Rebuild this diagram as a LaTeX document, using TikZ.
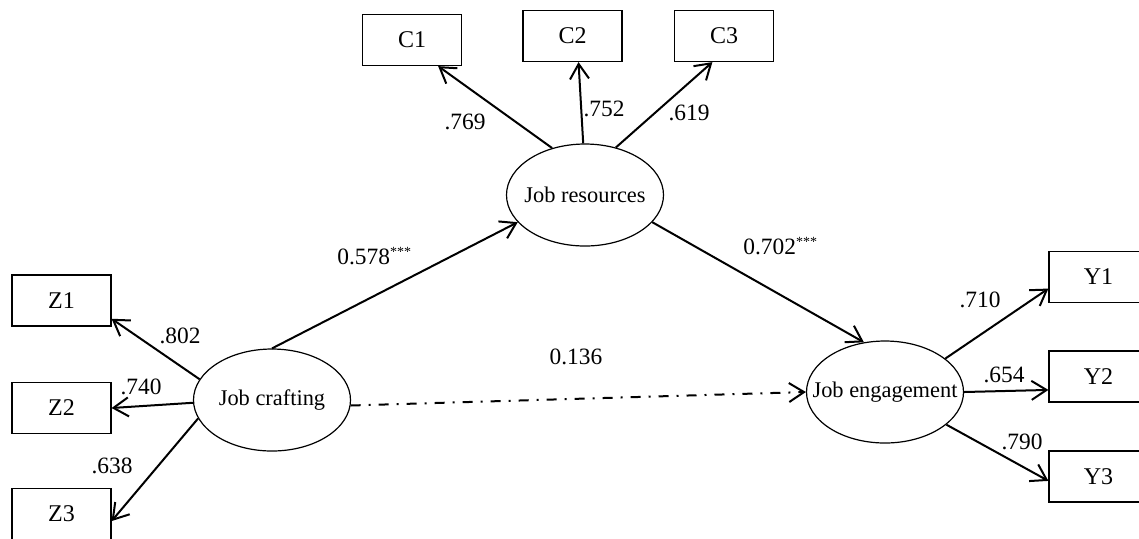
\documentclass[tikz,border=0pt]{standalone}
\usepackage{fontspec}
\setmainfont{Liberation Serif}
\usetikzlibrary{arrows.meta,shapes.geometric}

\begin{document}
\begin{tikzpicture}[x=0.5pt,y=-0.5pt,>={Straight Barb[length=7.5pt,width=9.5pt]}]
\tikzstyle{every node}=[font=\fontsize{11.7}{14}\selectfont]
\tikzstyle{latent}=[draw,ellipse,line width=0.6pt,minimum width=78.5pt,minimum height=51pt,inner sep=0pt,font=\fontsize{11.2}{13}\selectfont]
\tikzstyle{item}=[draw,rectangle,line width=0.6pt,minimum width=49.5pt,minimum height=25.5pt,inner sep=0pt,font=\fontsize{12}{14}\selectfont]
\useasboundingbox (0,0) rectangle (1139,538);

\node[latent] (craft) at (272,400) {\makebox[0pt]{Job crafting}};
\node[latent] (resource) at (585,195) {\makebox[0pt]{Job resources}};
\node[latent] (engage) at (885,392) {\makebox[0pt]{Job engagement}};

\node[item] (z1) at (61.5,300.5) {Z1};
\node[item] (z2) at (61.5,408) {Z2};
\node[item] (z3) at (61.5,514) {Z3};

\node[item] (c1) at (412,40) {C1};
\node[item] (c2) at (572.5,36) {C2};
\node[item] (c3) at (724,36) {C3};

\node[item] (y1) at (1098.5,277) {Y1};
\node[item] (y2) at (1098.5,376.5) {Y2};
\node[item] (y3) at (1098.5,476.5) {Y3};

\path[line width=1pt] (craft.164) edge[->] (z1.-20);
\path[line width=1pt] (craft.182) edge[->] (z2.east);
\path[line width=1pt] (craft.194) edge[->] (z3.-8);

\path[line width=1pt] (resource.125) edge[->] (c1.-45);
\path[line width=1pt] (resource.92) edge[->] (c2.-77);
\path[line width=1pt] (resource.57) edge[->] (c3.-114);

\path[line width=1pt] (engage.29) edge[->] (y1.193);
\path[line width=1pt] (engage.east) edge[->] (y2.195);
\path[line width=1pt] (engage.-28) edge[->] (y3.185);

\path[line width=1pt] (craft.north) edge[->] (resource.202);
\path[line width=1pt] (resource.-22) edge[->] (engage.113);
\path[line width=1pt,dash pattern=on 5pt off 4pt on 1pt off 4pt] (craft.-4) edge[->] (engage.west);

\node (l802) at (180,336) {.802};
\node (l740) at (141,387) {.740};
\node (l638) at (112,466) {.638};
\node (l769) at (465,122) {.769};
\node (l752) at (604,109) {.752};
\node (l619) at (689,113) {.619};
\node (l710) at (980,300) {.710};
\node (l654) at (1004,375) {.654};
\node (l790) at (1022,442) {.790};
\node (l136) at (576,357) {0.136};
\node[anchor=west,inner sep=0pt] (l578) at (337,256) {0.578\textsuperscript{\scriptsize***}};
\node[anchor=west,inner sep=0pt] (l702) at (743,246) {0.702\textsuperscript{\scriptsize***}};

\end{tikzpicture}
\end{document}
